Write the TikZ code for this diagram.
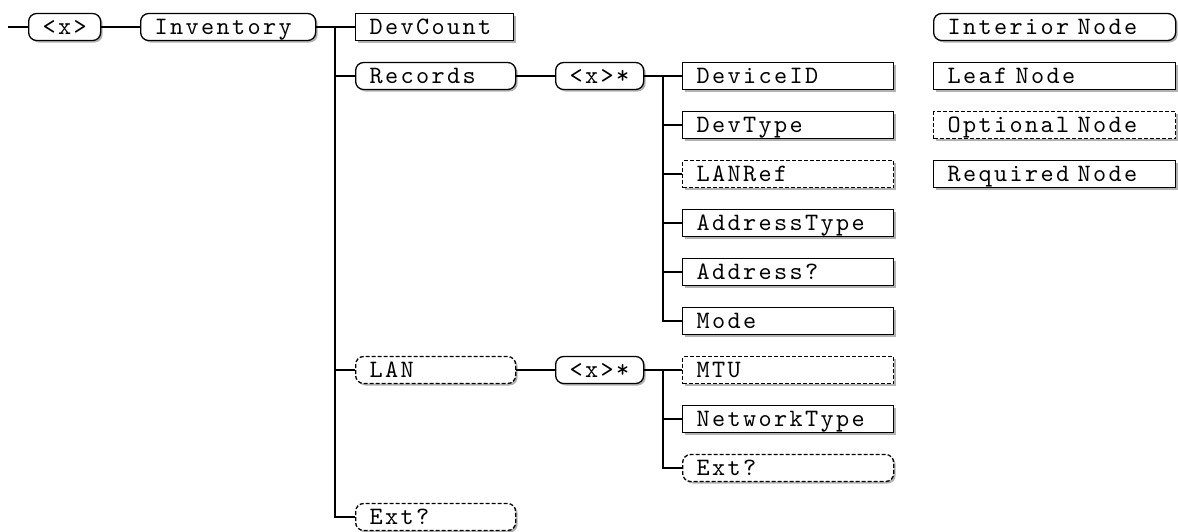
\documentclass[tikz,border=0pt]{standalone}
\usepackage{fontspec}
\newfontfamily\codefont[Extension=.otf, LetterSpace=9.5]{lmmono10-regular}
\usetikzlibrary{shadows}

\tikzset{
    every node/.style={font=\codefont\fontsize{25}{28}\selectfont},
    nodebox/.style={draw, line width=1.3pt, fill=white, anchor=west,
        inner xsep=14pt, inner ysep=0pt, minimum height=27pt,
        text width=#1, align=left, text height=15pt, text depth=0pt,
        drop shadow={shadow xshift=2pt, shadow yshift=-2pt, fill=black!60, opacity=0.5}},
    interior/.style={nodebox=#1, rounded corners=8pt},
    leaf/.style={nodebox=#1},
    optnode/.style={dash pattern=on 4pt off 2pt},
    link/.style={line width=1.3pt}
}

\begin{document}
\begin{tikzpicture}[x=1pt, y=-1pt]
    \useasboundingbox (0,0) rectangle (1178,531);

    % === TOP LEVEL ===
    \coordinate (start) at (8,27);
    \node[interior=44pt] (root) at (28,27) {<x>};
    \node[interior=147pt] (inv) at (140,27) {Inventory};

    \node[leaf=130pt] (devcount) at (355,27) {DevCount};
    \node[interior=132pt] (records) at (355,76) {Records};
    \node[interior=132pt, optnode] (lan) at (355,370) {LAN};
    \node[interior=132pt, optnode] (ext) at (355,517) {Ext?};

    % === RECORDS ===
    \node[interior=60pt] (recx) at (555,76) {<x>*};
    \node[leaf=183pt] (devid) at (682,76) {DeviceID};
    \node[leaf=183pt] (devtype) at (682,125) {DevType};
    \node[leaf=183pt, optnode] (lanref) at (682,174) {LANRef};
    \node[leaf=183pt] (addrtype) at (682,223) {AddressType};
    \node[leaf=183pt] (addr) at (682,272) {Address?};
    \node[leaf=183pt] (mode) at (682,321) {Mode};

    % === LAN ===
    \node[interior=60pt] (lanx) at (555,370) {<x>*};
    \node[leaf=183pt, optnode] (mtu) at (682,370) {MTU};
    \node[leaf=183pt] (nettype) at (682,419) {NetworkType};
    \node[interior=183pt, optnode] (lanext) at (682,468) {Ext?};

    % === LEGEND ===
    \node[interior=214pt] (leginterior) at (933,27) {Interior Node};
    \node[leaf=214pt] (legleaf) at (933,76) {Leaf Node};
    \node[leaf=214pt, optnode] (legopt) at (933,125) {Optional Node};
    \node[leaf=214pt] (legreq) at (933,174) {Required Node};

    % === CONNECTORS ===
    \coordinate (trunk1) at (335,27);
    \coordinate (trunk2) at (663,76);
    \coordinate (trunk3) at (663,370);

    \draw[link] (start) -- (root.west);
    \draw[link] (root.east) -- (inv.west);
    \draw[link] (inv.east) -- (devcount.west);
    \foreach \n in {records, lan, ext} {
        \draw[link] (trunk1) |- (\n.west);
    }

    \draw[link] (records.east) -- (recx.west);
    \draw[link] (recx.east) -- (devid.west);
    \foreach \n in {devtype, lanref, addrtype, addr, mode} {
        \draw[link] (trunk2) |- (\n.west);
    }

    \draw[link] (lan.east) -- (lanx.west);
    \draw[link] (lanx.east) -- (mtu.west);
    \foreach \n in {nettype, lanext} {
        \draw[link] (trunk3) |- (\n.west);
    }
\end{tikzpicture}
\end{document}
